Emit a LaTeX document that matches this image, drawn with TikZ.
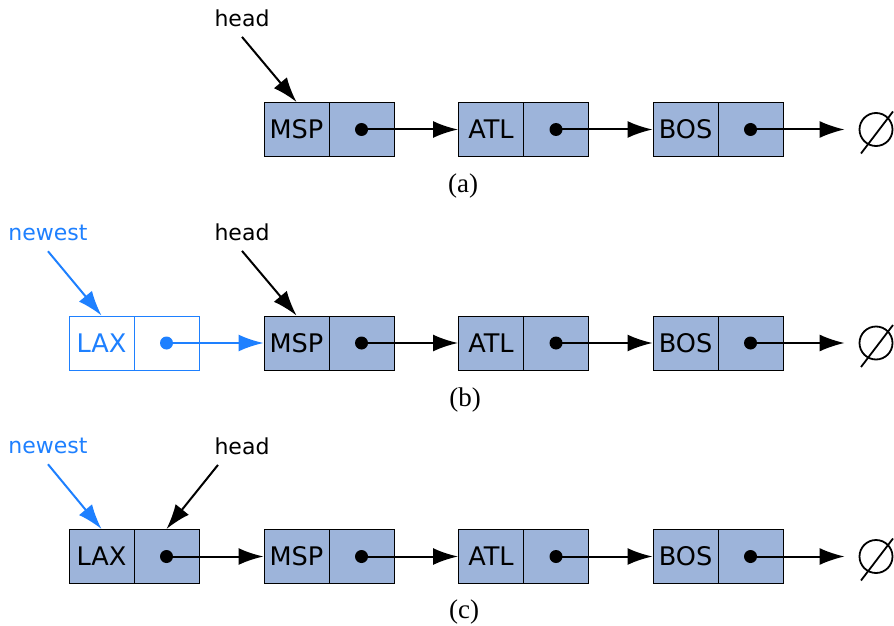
\documentclass[tikz,border=0pt]{standalone}
\usepackage{fontspec}
\usetikzlibrary{arrows.meta,calc}
\newfontfamily\lblfont{DejaVu Sans}
\newfontfamily\capfont{Liberation Serif}
\definecolor{boxfill}{RGB}{157,180,218}
\definecolor{newblue}{RGB}{30,128,255}
\tikzset{
  cell/.style={draw=black, fill=boxfill, minimum width=32.5pt, minimum height=27pt, inner sep=0pt, line width=0.5pt, font=\lblfont\fontsize{12.8}{14}\selectfont},
  newcell/.style={cell, draw=newblue, fill=white, text=newblue},
  ptrdot/.style={circle, fill=black, inner sep=0pt, minimum size=6.5pt},
  ptr/.style={line width=1pt, -{Latex[length=12.5pt,width=8.5pt]}},
  lbl/.style={font=\lblfont\fontsize{11}{12}\selectfont, inner sep=5pt},
  caption/.style={font=\capfont\fontsize{13.5}{15}\selectfont, inner sep=0pt},
  nullset/.style={circle, draw=black, line width=0.9pt, minimum size=16.5pt, inner sep=0pt},
  slash/.style={line width=0.9pt},
}
\begin{document}
\begin{tikzpicture}[x=0.5pt,y=-0.5pt]
\useasboundingbox (0,0) rectangle (894,626);
% ---------- (a)
\node[cell] (mspA) at (296.5,129.5) {MSP};
\node[cell] (mspAp) at (361.5,129.5) {};
\node[cell] (atlA) at (491,129.5) {ATL};
\node[cell] (atlAp) at (556,129.5) {};
\node[cell] (bosA) at (685.5,129.5) {BOS};
\node[cell] (bosAp) at (750.5,129.5) {};
\node[ptrdot] (dA1) at (mspAp.center) {};
\node[ptrdot] (dA2) at (atlAp.center) {};
\node[ptrdot] (dA3) at (bosAp.center) {};
\node[nullset] (nullA) at (876,129.5) {};
\draw[slash] ($(nullA.center)+(-15,24)$) coordinate (nAa) -- ($(nullA.center)+(17,-18)$) coordinate (nAb);
\draw[ptr] (dA1.center) -- (atlA.west);
\draw[ptr] (dA2.center) -- (bosA.west);
\draw[ptr, shorten >=7pt] (dA3.center) -- (nullA.west);
\node[lbl] (headA) at (242,18) {head};
\draw[ptr] (headA.south) -- (mspA.north);
\node[caption] (capA) at (463,186) {(a)};
% ---------- (b)
\node[newcell] (laxB) at (101.5,343) {LAX};
\node[newcell] (laxBp) at (166.5,343) {};
\node[cell] (mspB) at (296.5,343) {MSP};
\node[cell] (mspBp) at (361.5,343) {};
\node[cell] (atlB) at (491,343) {ATL};
\node[cell] (atlBp) at (556,343) {};
\node[cell] (bosB) at (685.5,343) {BOS};
\node[cell] (bosBp) at (750.5,343) {};
\node[ptrdot, fill=newblue] (dB0) at (laxBp.center) {};
\node[ptrdot] (dB1) at (mspBp.center) {};
\node[ptrdot] (dB2) at (atlBp.center) {};
\node[ptrdot] (dB3) at (bosBp.center) {};
\node[nullset] (nullB) at (876,343) {};
\draw[slash] ($(nullB.center)+(-15,24)$) coordinate (nBa) -- ($(nullB.center)+(17,-18)$) coordinate (nBb);
\draw[ptr, newblue] (dB0.center) -- (mspB.west);
\draw[ptr] (dB1.center) -- (atlB.west);
\draw[ptr] (dB2.center) -- (bosB.west);
\draw[ptr, shorten >=7pt] (dB3.center) -- (nullB.west);
\node[lbl] (headB) at (242,232) {head};
\draw[ptr] (headB.south) -- (mspB.north);
\node[lbl, text=newblue] (newB) at (48,233) {newest};
\draw[ptr, newblue] (newB.south) -- (laxB.north);
\node[caption] (capB) at (465,400) {(b)};
% ---------- (c)
\node[cell] (laxC) at (101.5,556.5) {LAX};
\node[cell] (laxCp) at (166.5,556.5) {};
\node[cell] (mspC) at (296.5,556.5) {MSP};
\node[cell] (mspCp) at (361.5,556.5) {};
\node[cell] (atlC) at (491,556.5) {ATL};
\node[cell] (atlCp) at (556,556.5) {};
\node[cell] (bosC) at (685.5,556.5) {BOS};
\node[cell] (bosCp) at (750.5,556.5) {};
\node[ptrdot] (dC0) at (laxCp.center) {};
\node[ptrdot] (dC1) at (mspCp.center) {};
\node[ptrdot] (dC2) at (atlCp.center) {};
\node[ptrdot] (dC3) at (bosCp.center) {};
\node[nullset] (nullC) at (876,556.5) {};
\draw[slash] ($(nullC.center)+(-15,24)$) coordinate (nCa) -- ($(nullC.center)+(17,-18)$) coordinate (nCb);
\draw[ptr] (dC0.center) -- (mspC.west);
\draw[ptr] (dC1.center) -- (atlC.west);
\draw[ptr] (dC2.center) -- (bosC.west);
\draw[ptr, shorten >=7pt] (dC3.center) -- (nullC.west);
\node[lbl] (headC) at (242,446) {head};
\draw[ptr] ([xshift=-12pt]headC.south) -- (laxCp.north);
\node[lbl, text=newblue] (newC) at (48,446) {newest};
\draw[ptr, newblue] (newC.south) -- (laxC.north);
\node[caption] (capC) at (464,612) {(c)};
\end{tikzpicture}
\end{document}
